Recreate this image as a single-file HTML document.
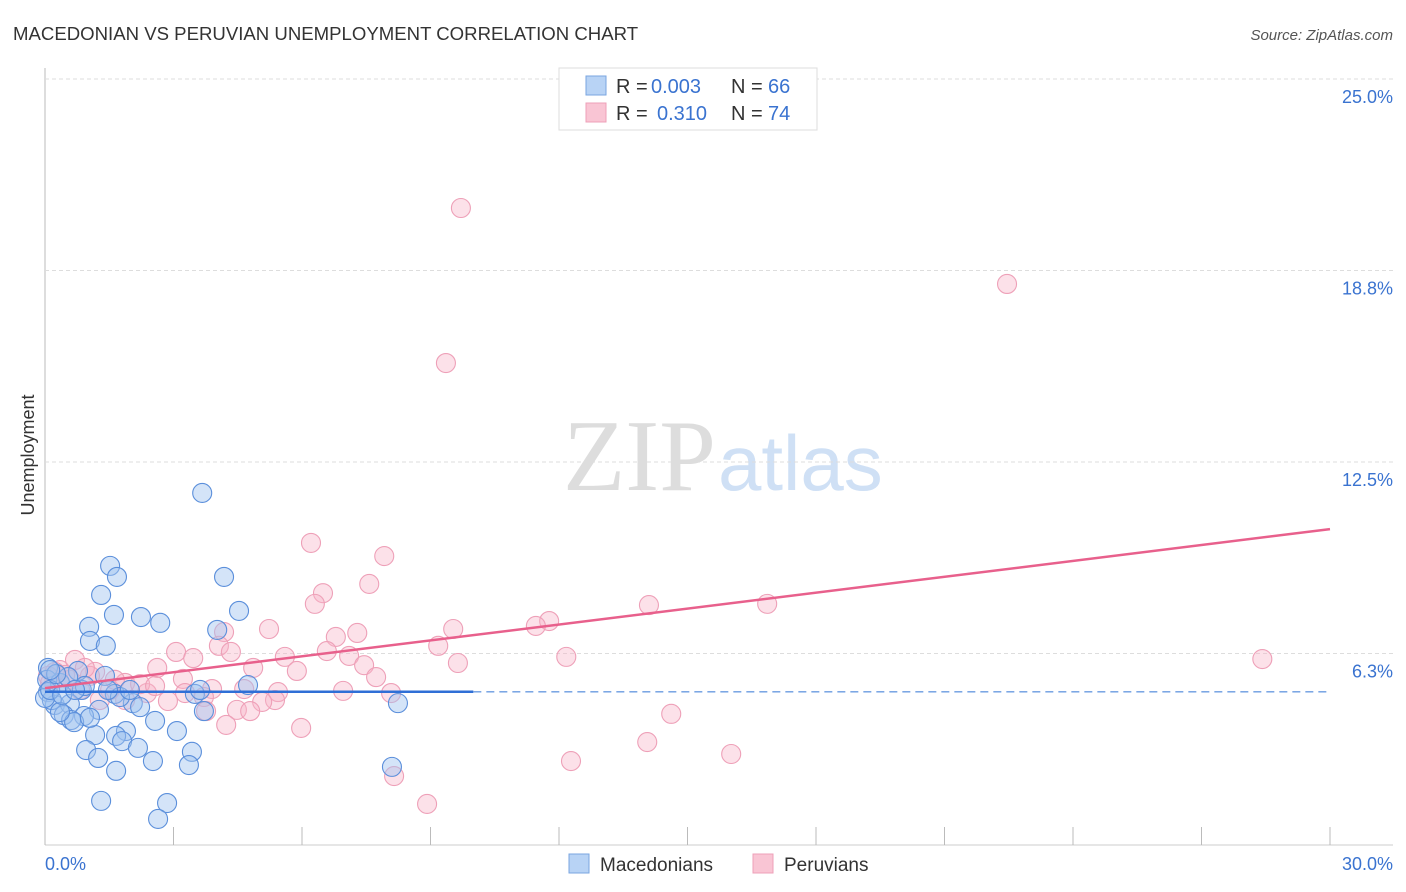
<!DOCTYPE html>
<html><head><meta charset="utf-8"><style>
body{margin:0;background:#fff;font-family:"Liberation Sans",sans-serif;}
#wrap{position:relative;width:1406px;height:892px;overflow:hidden;}
</style></head><body>
<div id="wrap">
<svg id="svg" width="1406" height="892" xmlns="http://www.w3.org/2000/svg">
<text x="13" y="40" font-size="18.6" fill="#333">MACEDONIAN VS PERUVIAN UNEMPLOYMENT CORRELATION CHART</text>
<text x="1393" y="40" font-size="15" fill="#555" font-style="italic" text-anchor="end">Source: ZipAtlas.com</text>
<text x="716" y="490" font-size="102" fill="#ddd" font-family="Liberation Serif,serif" text-anchor="end">ZIP</text>
<text x="718" y="490" font-size="78" fill="#cfe0f5">atlas</text>
<text x="34" y="455" font-size="18" fill="#333" text-anchor="middle" transform="rotate(-90 34 455)">Unemployment</text>
<g id="grid"></g><g id="pts"></g><g id="lines"></g>
<g>
<rect x="559" y="68" width="258" height="62" fill="#fff" stroke="#ddd"/>
<rect x="586" y="76" width="20" height="19" fill="#b8d3f5" stroke="#7aa6e0"/>
<rect x="586" y="103" width="20" height="19" fill="#f9c5d4" stroke="#eea0b8"/>
<text x="616" y="93" font-size="20" fill="#333">R =</text>
<text x="651" y="93" font-size="20" fill="#3a73d0">0.003</text>
<text x="731" y="93" font-size="20" fill="#333">N =</text>
<text x="768" y="93" font-size="20" fill="#3a73d0">66</text>
<text x="616" y="120" font-size="20" fill="#333">R =</text>
<text x="657" y="120" font-size="20" fill="#3a73d0">0.310</text>
<text x="731" y="120" font-size="20" fill="#333">N =</text>
<text x="768" y="120" font-size="20" fill="#3a73d0">74</text>
</g>
<g>
<rect x="569" y="854" width="20" height="19" fill="#b8d3f5" stroke="#7aa6e0"/>
<text x="600" y="871" font-size="19" fill="#333">Macedonians</text>
<rect x="753" y="854" width="20" height="19" fill="#f9c5d4" stroke="#eea0b8"/>
<text x="784" y="871" font-size="19" fill="#333">Peruvians</text>
</g>
</svg>
</div>
<script>
const yTicks=[6.25,12.5,18.75,25];
const yTickLabels=["6.3%","12.5%","18.8%","25.0%"];
const xTickVals=[0,3,6,9,12,15,18,21,24,27,30];
const xEndLabels=["0.0%","30.0%"];
const macX=[3.67,1.52,1.68,4.18,1.31,1.61,2.24,4.53,2.69,1.03,4.02,1.05,1.42,0.07,0.77,1.40,0.05,0.35,0.86,0.07,1.63,3.50,4.74,2.05,0.23,0.58,0.44,1.26,0.91,3.71,0.61,0.68,8.24,1.17,1.89,2.57,3.08,1.66,0.96,1.80,2.17,3.43,1.24,2.52,3.36,1.66,8.10,1.31,2.85,2.64,0.16,0.35,0,0.54,0.93,1.75,0.12,0.40,2.22,3.62,1.98,0.26,0.70,1.47,0.12,1.05];
const macY=[11.49,9.11,8.75,8.75,8.16,7.51,7.44,7.64,7.25,7.12,7.02,6.66,6.50,5.78,5.68,5.52,5.39,5.29,5.06,4.99,4.93,4.93,5.22,4.63,4.57,4.60,4.24,4.41,4.21,4.37,4.08,4.01,4.63,3.59,3.72,4.05,3.72,3.56,3.10,3.39,3.17,3.04,2.84,2.74,2.61,2.42,2.55,1.44,1.37,0.85,4.73,4.34,4.80,5.48,5.19,4.83,5.06,4.90,4.50,5.06,5.06,5.58,5.06,5.06,5.71,4.15];
const perX=[9.71,22.46,9.36,6.21,7.92,6.49,7.57,6.30,11.77,11.46,14.10,16.86,9.53,5.23,4.18,7.29,6.79,4.06,4.34,3.06,9.18,6.58,7.10,12.17,28.42,2.62,3.46,5.60,4.86,7.45,9.64,5.88,7.73,3.22,3.90,4.65,5.44,6.96,8.08,3.27,2.87,2.38,3.71,5.37,5.07,4.48,4.79,3.76,4.23,5.98,14.62,14.06,16.02,12.28,8.15,8.92,1.17,1.52,1.87,0.35,0.58,0.82,0.47,0.12,0.23,1.05,1.28,2.22,2.57,1.87,0.70,0.07,0.93,1.63];
const perY=[20.79,18.31,15.73,9.86,9.43,8.22,8.52,7.87,7.31,7.15,7.83,7.87,7.05,7.05,6.95,6.92,6.79,6.50,6.30,6.30,6.50,6.33,6.17,6.14,6.07,5.78,6.10,6.14,5.78,5.87,5.94,5.68,5.48,5.42,5.09,5.09,4.99,5.03,4.96,4.96,4.70,4.96,4.83,4.73,4.67,4.41,4.37,4.37,3.92,3.82,4.28,3.36,2.97,2.74,2.25,1.34,5.65,5.06,5.29,5.71,5.39,5.06,5.55,5.29,5.65,5.52,4.73,5.25,5.19,4.73,6.04,5.52,5.78,5.39];
const macTrend=[5.0,5.0];
const macSolidEnd=10;
const perTrend=[5.12,10.31];

const NS="http://www.w3.org/2000/svg";
const X=v=>45+v/30*1285;
const Y=v=>845-v/6.25*191.5;
function mk(tag,attrs,parent){const e=document.createElementNS(NS,tag);for(const k in attrs)e.setAttribute(k,attrs[k]);parent.appendChild(e);return e;}
const grid=document.getElementById('grid'),pts=document.getElementById('pts'),lines=document.getElementById('lines');
let e=mk('line',{x1:45,y1:68,x2:45,y2:845,stroke:'#bbb'},grid);


e=mk('line',{x1:45,y1:845,x2:1393,y2:845,stroke:'#ccc'},grid);


yTicks.forEach((t,i)=>{
 let g=mk('line',{x1:45,y1:Y(t),x2:1393,y2:Y(t),stroke:'#ddd','stroke-dasharray':'4,3'},grid);
 
 
 let l=mk('text',{x:1393,y:Y(t)+24,'font-size':18,fill:'#3a73d0','text-anchor':'end'},grid);
 l.textContent=yTickLabels[i];
 
 
});
xTickVals.forEach(t=>{
 let g=mk('line',{x1:X(t),y1:827,x2:X(t),y2:845,stroke:'#bbb'},grid);
 
 
});
let l0=mk('text',{x:45,y:870,'font-size':18,fill:'#3a73d0'},grid);l0.textContent=xEndLabels[0];


let l1=mk('text',{x:1393,y:870,'font-size':18,fill:'#3a73d0','text-anchor':'end'},grid);l1.textContent=xEndLabels[1];


perX.forEach((v,i)=>{
 let c=mk('circle',{cx:X(v),cy:Y(perY[i]),r:9.5,fill:'rgba(248,180,200,0.4)',stroke:'#eea0b8','stroke-width':1.1},pts);
 
 
});
macX.forEach((v,i)=>{
 let c=mk('circle',{cx:X(v),cy:Y(macY[i]),r:9.5,fill:'rgba(160,196,240,0.45)',stroke:'#5b8fdb','stroke-width':1.1},pts);
 
 
});
const mAt=x=>macTrend[0]+(macTrend[1]-macTrend[0])*x/30;
let t1=mk('line',{x1:X(0),y1:Y(mAt(0)),x2:X(macSolidEnd),y2:Y(mAt(macSolidEnd)),stroke:'#2f6fd6','stroke-width':2.5},lines);


let t2=mk('line',{x1:X(macSolidEnd),y1:Y(mAt(macSolidEnd)),x2:X(30),y2:Y(mAt(30)),stroke:'#6a9be0','stroke-width':1.3,'stroke-dasharray':'8,5'},lines);


let t3=mk('line',{x1:X(0),y1:Y(perTrend[0]),x2:X(30),y2:Y(perTrend[1]),stroke:'#e8608c','stroke-width':2.5},lines);


</script>
</body></html>
